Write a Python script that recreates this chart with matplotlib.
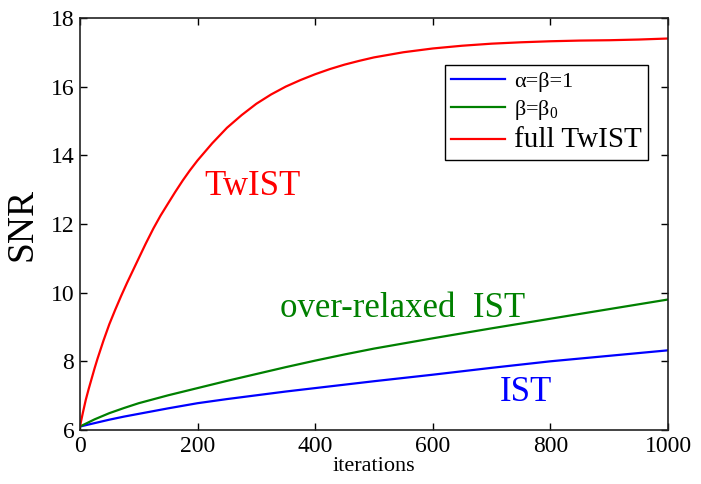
import matplotlib
matplotlib.use('Agg')
import matplotlib.pyplot as plt

# values
iters_red = [0, 5, 10, 15, 20, 25, 30, 40, 50, 60, 70, 80, 90, 100, 112, 125, 137, 150,
             162, 175, 187, 200, 225, 250, 275, 300, 325, 350, 375, 400, 425, 450, 475,
             500, 550, 600, 650, 700, 750, 800, 850, 900, 950, 1000]
snr_twist = [6.1, 6.5, 6.88, 7.2, 7.5, 7.8, 8.08, 8.6, 9.08, 9.5, 9.9, 10.28, 10.64, 11.0,
             11.43, 11.87, 12.24, 12.6, 12.93, 13.27, 13.56, 13.85, 14.35, 14.8, 15.17, 15.5,
             15.77, 16.0, 16.19, 16.36, 16.51, 16.64, 16.75, 16.85, 17.0, 17.11, 17.19, 17.25,
             17.29, 17.32, 17.34, 17.35, 17.37, 17.4]

iters = [0, 25, 50, 75, 100, 150, 200, 250, 300, 350, 400, 450, 500, 600, 700, 800, 900, 1000]
snr_relaxed = [6.1, 6.31, 6.49, 6.64, 6.78, 7.01, 7.22, 7.43, 7.63, 7.83, 8.02, 8.2, 8.37,
               8.67, 8.96, 9.24, 9.52, 9.8]
snr_ist = [6.1, 6.2, 6.3, 6.39, 6.47, 6.63, 6.78, 6.9, 7.01, 7.12, 7.22, 7.32, 7.42, 7.61,
           7.81, 8.0, 8.16, 8.32]

legend_labels = [u'\u03b1=\u03b2=1', u'\u03b2=\u03b2$_0$', 'full TwIST']
xticks = [0, 200, 400, 600, 800, 1000]
yticks = [6, 8, 10, 12, 14, 16, 18]

plt.rcParams['font.family'] = ['Liberation Serif', 'DejaVu Serif']
plt.rcParams['mathtext.fontset'] = 'custom'
plt.rcParams['mathtext.rm'] = 'Liberation Serif'
plt.rcParams['mathtext.it'] = 'Liberation Serif:italic'

fig = plt.figure(figsize=(7.01, 4.84), dpi=100)
ax = fig.add_axes([0.114, 0.1116, 0.839, 0.8514])

l1, = ax.plot(iters, snr_ist, color=(0, 0, 1), lw=1.6)
l2, = ax.plot(iters, snr_relaxed, color=(0, 0.5, 0), lw=1.6)
l3, = ax.plot(iters_red, snr_twist, color=(1, 0, 0), lw=1.6)

ax.set_xlim(0, 1000)
ax.set_ylim(6, 18)
ax.set_xticks(xticks)
ax.set_yticks(yticks)
ax.tick_params(direction='in', top=True, right=True, length=5, width=1,
               labelsize=17, pad=4)
for s in ax.spines.values():
    s.set_linewidth(1.2)
    s.set_color('#222222')

ax.set_xlabel('iterations', fontsize=16, labelpad=0)
ax.set_ylabel('SNR', fontsize=27, labelpad=8)

ax.text(212, 13.1, 'TwIST', color='red', fontsize=25, va='center')
ax.text(340, 9.55, 'over-relaxed  IST', color=(0, 0.5, 0), fontsize=25, va='center')
ax.text(714, 7.1, 'IST', color='blue', fontsize=25, va='center')

leg = ax.legend([l1, l2, l3], legend_labels, loc='upper right',
                bbox_to_anchor=(0.966, 0.886), borderaxespad=0, fancybox=False,
                edgecolor='black', fontsize=16, handlelength=2.4,
                labelspacing=0.25, borderpad=0.3, handletextpad=0.4, framealpha=1)
leg.get_frame().set_linewidth(1.0)
leg.get_texts()[2].set_fontsize(21)

fig.savefig('out.png', dpi=100)
